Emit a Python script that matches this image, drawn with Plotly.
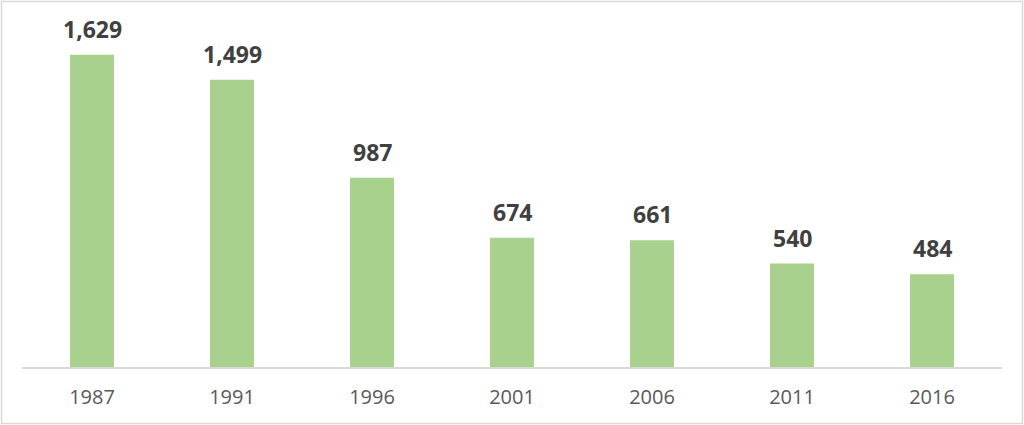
import plotly.graph_objects as go

years = ["1987", "1991", "1996", "2001", "2006", "2011", "2016"]
values = [1629, 1499, 987, 674, 661, 540, 484]
labels = ["1,629", "1,499", "987", "674", "661", "540", "484"]

W, H = 1024, 425
ml, mr, mt, mb = 22, 22, 22, 58
pw, ph = W - ml - mr, H - mt - mb

def px_to_paper_x(px):
    return (px - ml) / pw

def px_to_paper_y(py):
    return (H - mb - py) / ph

fig = go.Figure()
fig.add_trace(go.Bar(
    x=years, y=values,
    marker=dict(color="#A9D18E", line=dict(width=0)),
    width=0.314,
    hoverinfo="skip",
))

for i, (y, t) in enumerate(zip(values, labels)):
    fig.add_annotation(
        x=i, y=y, text="<b>%s</b>" % t, showarrow=False,
        yanchor="bottom", yshift=8,
        font=dict(family="Open Sans", size=23, color="#404040"),
    )

fig.add_shape(
    type="rect", xref="paper", yref="paper",
    x0=px_to_paper_x(1.5), x1=px_to_paper_x(1022.5),
    y0=px_to_paper_y(423.5), y1=px_to_paper_y(1.5),
    line=dict(color="#D9D9D9", width=1.5), fillcolor="rgba(0,0,0,0)",
    layer="below",
)

fig.update_layout(
    width=W, height=H,
    margin=dict(l=ml, r=mr, t=mt, b=mb),
    paper_bgcolor="white", plot_bgcolor="white",
    showlegend=False,
    xaxis=dict(
        type="category", range=[-0.5, 6.5],
        showgrid=False, showline=True, linecolor="#D9D9D9", linewidth=1.5,
        ticks="", ticklabelstandoff=11,
        tickfont=dict(family="Open Sans", size=20, color="#595959"),
        fixedrange=True,
    ),
    yaxis=dict(
        range=[0, 1800], visible=False, showgrid=False, zeroline=False,
        fixedrange=True,
    ),
)

fig.write_html(
    "out.html",
    config={"displayModeBar": False},
    post_script="document.body.style.margin='0';document.body.style.overflow='hidden';",
)
